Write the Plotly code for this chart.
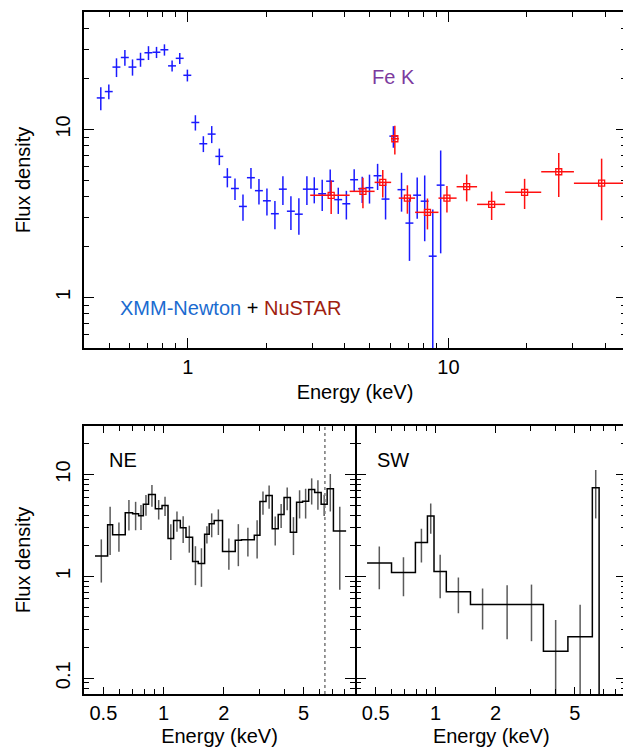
import math
import plotly.graph_objects as go

# ---------------- data ----------------
# Top panel: XMM-Newton (blue) points
XMM_E = [0.464, 0.498, 0.533, 0.574, 0.614, 0.659, 0.707, 0.759, 0.814, 0.871, 0.932, 0.997,
         1.07, 1.148, 1.236, 1.322, 1.419, 1.518, 1.629, 1.748, 1.876, 2.013, 2.16, 2.318,
         2.488, 2.669, 2.865, 3.058, 3.28, 3.52, 3.78, 4.06, 4.35, 4.67, 4.98, 5.35,
         5.74, 6.15, 6.61, 7.09, 7.59, 8.11, 8.71, 9.34]
XMM_F = [15.4, 16.8, 23.5, 26.8, 23.5, 26.1, 28.6, 28.8, 29.8, 23.9, 26.5, 21.0,
         11.0, 8.22, 9.38, 6.91, 5.20, 4.45, 3.48, 5.16, 4.32, 3.76, 3.15, 4.41,
         3.26, 3.13, 4.41, 4.41, 4.14, 4.92, 3.82, 3.61, 5.02, 4.44, 4.50, 5.30,
         3.85, 9.12, 4.38, 2.77, 4.06, 3.74, 1.76, 4.66]
XMM_ERR = [2.4, 1.7, 3.0, 2.9, 2.6, 2.5, 2.7, 2.2, 2.3, 1.8, 2.0, 1.7,
           1.15, 0.89, 1.09, 0.78, 0.68, 0.65, 0.62, 0.73, 0.75, 0.69, 0.6, 0.86,
           0.74, 0.77, 0.86, 0.78, 0.87, 0.85, 0.68, 0.70, 0.78, 0.79, 0.88, 0.94,
           0.94, 1.34, 1.14, 1.12, 1.12, 1.58, 1.58, 2.83]
XMM_XERR_PCT = 3.5

# Top panel: NuSTAR (red) points
NU_E = [3.55, 4.70, 5.60, 6.23, 6.96, 8.31, 9.87, 11.75, 14.65, 19.6, 26.5, 38.7]
NU_LO = [2.95, 4.18, 5.21, 6.03, 6.45, 7.45, 9.16, 10.75, 12.88, 16.5, 22.7, 30.3]
NU_HI = [4.18, 5.21, 6.03, 6.45, 7.45, 9.16, 10.75, 12.88, 16.5, 22.7, 30.3, 47.3]
NU_F = [4.05, 4.28, 4.84, 8.80, 3.90, 3.21, 3.90, 4.56, 3.58, 4.22, 5.60, 4.79]
NU_ERR = [0.91, 0.88, 0.90, 1.70, 0.75, 0.67, 0.70, 0.83, 0.69, 0.86, 1.64, 1.91]

# Bottom-left: NE region, binned spectrum
NE_EDGES = [0.454, 0.525, 0.556, 0.643, 0.700, 0.750, 0.792, 0.841, 0.909, 0.982, 1.052,
            1.122, 1.212, 1.294, 1.396, 1.49, 1.603, 1.69, 1.79, 1.97, 2.28, 2.45, 2.84,
            3.03, 3.25, 3.49, 3.74, 4.0, 4.30, 4.62, 4.95, 5.31, 5.69, 6.13, 6.57, 7.06, 8.17]
NE_F = [1.59, 3.22, 2.57, 4.22, 4.12, 3.94, 5.12, 6.37, 4.62, 4.98, 2.35, 3.55, 3.01, 2.43,
        1.40, 1.34, 2.6, 3.29, 3.55, 1.76, 2.26, 2.29, 2.53, 5.44, 6.23, 2.94, 4.06, 5.96,
        2.72, 5.36, 5.48, 7.13, 6.67, 5.12, 7.24, 2.79]
NE_ERR = [0.72, 1.6, 0.82, 1.4, 1.28, 1.08, 1.17, 1.54, 1.0, 1.07, 0.9, 0.8, 0.88, 0.72,
          0.58, 0.55, 0.5, 0.87, 1.0, 0.6, 1.0, 0.72, 1.03, 1.4, 1.6, 0.93, 1.07, 1.5,
          1.1, 1.65, 1.78, 2.05, 2.15, 1.2, 2.9, 2.05]

# Bottom-right: SW region, binned spectrum (last bin drops below the plot floor)
SW_EDGES = [0.452, 0.600, 0.791, 0.909, 0.981, 1.131, 1.496, 1.98, 2.64, 3.48, 4.62, 6.13, 6.63, 7.1]
SW_F = [1.356, 1.09, 2.15, 3.91, 1.12, 0.705, 0.531, 0.531, 0.531, 0.184, 0.256, 7.41, 0.02]
SW_ERR = [0.61, 0.45, 0.78, 1.28, 0.51, 0.27, 0.23, 0.29, 0.30, 0.19, 0.27, 3.7, 0.0]

FE_K_ENERGY = 6.4

TOP_X_TICKS = [1, 10]
TOP_Y_TICKS = [1, 10]
BOT_X_TICKS = [0.5, 1, 2, 5]
BOT_X_TEXT = ["0.5", "1", "2", "5"]
BOT_Y_TICKS = [0.1, 1, 10]
BOT_Y_TEXT = ["0.1", "1", "10"]

TOP_X_RANGE = (0.4, 48.0)
TOP_Y_RANGE = (0.5, 50.0)
BOT_X_RANGE = (0.4, 9.05)
BOT_Y_RANGE = (0.07, 30.0)

# ---------------- figure ----------------
PAGE_W, PAGE_H = 631, 749
OFF = 8  # default body margin of the page
W, H = PAGE_W - OFF, PAGE_H - OFF
FONT = "Liberation Sans, Arial, Helvetica, sans-serif"


def fx(p):
    return (p - OFF) / W


def fy(p):
    return 1 - (p - OFF) / H


def minor_vals(lo, hi):
    out = []
    dec = 10 ** math.floor(math.log10(lo))
    while dec <= hi:
        for m in range(2, 10):
            v = m * dec
            if lo <= v <= hi:
                out.append(round(v, 6))
        dec *= 10
    return out


fig = go.Figure()

BLUE = "#1a1aff"
RED = "#ff1010"

fig.add_trace(go.Scatter(
    x=XMM_E, y=XMM_F, mode="markers", xaxis="x", yaxis="y",
    marker=dict(size=1, color=BLUE),
    error_y=dict(type="data", array=XMM_ERR, color=BLUE, thickness=1.5, width=0),
    error_x=dict(type="percent", value=XMM_XERR_PCT, color=BLUE, thickness=1.5, width=0),
    hoverinfo="skip", showlegend=False))

nu_plus = [h - e for h, e in zip(NU_HI, NU_E)]
nu_minus = [e - l for e, l in zip(NU_E, NU_LO)]
fig.add_trace(go.Scatter(
    x=NU_E, y=NU_F, mode="markers", xaxis="x", yaxis="y",
    marker=dict(symbol="square-open", size=6, color=RED, line=dict(width=1.3, color=RED)),
    error_y=dict(type="data", array=NU_ERR, color=RED, thickness=1.5, width=0),
    error_x=dict(type="data", array=nu_plus, arrayminus=nu_minus, color=RED, thickness=1.5, width=0),
    hoverinfo="skip", showlegend=False))


def add_binned(edges, vals, errs, xa, ya):
    # error bars at bin centres (grey)
    cx, cy, ce = [], [], []
    for i, v in enumerate(vals):
        if errs[i] > 0:
            cx.append(math.sqrt(edges[i] * edges[i + 1]))
            cy.append(v)
            ce.append(errs[i])
    fig.add_trace(go.Scatter(
        x=cx, y=cy, mode="markers", xaxis=xa, yaxis=ya,
        marker=dict(size=1, color="rgba(0,0,0,0)"),
        error_y=dict(type="data", array=ce, color="#5a5a5a", thickness=1.5, width=0),
        hoverinfo="skip", showlegend=False))
    fig.add_trace(go.Scatter(
        x=list(edges), y=list(vals) + [vals[-1]], mode="lines", line_shape="hv",
        xaxis=xa, yaxis=ya, line=dict(color="black", width=1.5),
        hoverinfo="skip", showlegend=False))


add_binned(NE_EDGES, NE_F, NE_ERR, "x2", "y2")
add_binned(SW_EDGES, SW_F, SW_ERR, "x3", "y3")

# Fe K dotted marker line in NE panel
fig.add_trace(go.Scatter(
    x=[FE_K_ENERGY, FE_K_ENERGY], y=[BOT_Y_RANGE[0], BOT_Y_RANGE[1]], mode="lines",
    xaxis="x2", yaxis="y2", line=dict(color="#777777", width=1.5, dash="dot"),
    hoverinfo="skip", showlegend=False))


def log_axis(rng, tickvals, ticktext, domain, anchor, minor_range, **kw):
    d = dict(
        type="log", range=[math.log10(rng[0]), math.log10(rng[1])], domain=domain, anchor=anchor,
        showline=True, linecolor="black", linewidth=1.5, mirror="allticks",
        ticks="inside", ticklen=10, tickwidth=1.3, tickcolor="black",
        tickmode="array", tickvals=tickvals, ticktext=ticktext,
        showgrid=False, zeroline=False, tickfont=dict(size=20, color="black", family=FONT),
        minor=dict(ticks="inside", ticklen=5, tickwidth=1.2, tickcolor="black", showgrid=False,
                   tickmode="array", tickvals=minor_vals(*minor_range)),
    )
    d.update(kw)
    return d


TOP_XD = [fx(84), fx(626)]
TOP_YD = [fy(348), fy(12)]
BL_XD = [fx(84), fx(355)]
BR_XD = [fx(356.5), fx(626)]
BOT_YD = [fy(694), fy(426)]

title_font = dict(size=20, color="black", family=FONT)

fig.update_layout(
    width=W, height=H, margin=dict(l=0, r=0, t=0, b=0),
    paper_bgcolor="white", plot_bgcolor="white", showlegend=False,
    font=dict(family=FONT, size=20, color="black"),
    xaxis=log_axis(TOP_X_RANGE, TOP_X_TICKS, [str(v) for v in TOP_X_TICKS], TOP_XD, "y",
                   TOP_X_RANGE,
                   title=dict(text="Energy (keV)", font=title_font, standoff=8)),
    yaxis=log_axis(TOP_Y_RANGE, TOP_Y_TICKS, [str(v) for v in TOP_Y_TICKS], TOP_YD, "x",
                   TOP_Y_RANGE, tickangle=-90, ticklabelstandoff=4,
                   title=dict(text="Flux density", font=title_font, standoff=16)),
    xaxis2=log_axis(BOT_X_RANGE, BOT_X_TICKS, BOT_X_TEXT, BL_XD, "y2", BOT_X_RANGE,
                    ticklen=7,
                    title=dict(text="Energy (keV)", font=title_font, standoff=6)),
    yaxis2=log_axis(BOT_Y_RANGE, BOT_Y_TICKS, BOT_Y_TEXT, BOT_YD, "x2", BOT_Y_RANGE,
                    tickangle=-90, ticklabelstandoff=4,
                    title=dict(text="Flux density", font=title_font, standoff=16)),
    xaxis3=log_axis(BOT_X_RANGE, BOT_X_TICKS, BOT_X_TEXT, BR_XD, "y3", BOT_X_RANGE,
                    ticklen=7,
                    title=dict(text="Energy (keV)", font=title_font, standoff=6)),
    yaxis3=log_axis(BOT_Y_RANGE, BOT_Y_TICKS, BOT_Y_TEXT, BOT_YD, "x3", BOT_Y_RANGE,
                    showticklabels=False),
)

fig.add_annotation(x=fx(393), y=fy(77), xref="paper", yref="paper", text="Fe K",
                   showarrow=False, font=dict(size=20, color="#7d3a9e", family=FONT),
                   xanchor="center", yanchor="middle")
fig.add_annotation(x=fx(118), y=fy(308), xref="paper", yref="paper",
                   text="<span style='color:#1b6bd0'>XMM-Newton</span> + "
                        "<span style='color:#a01e10'>NuSTAR</span>",
                   showarrow=False, font=dict(size=20, color="black", family=FONT),
                   xanchor="left", yanchor="middle")
fig.add_annotation(x=fx(107), y=fy(460), xref="paper", yref="paper", text="NE",
                   showarrow=False, font=dict(size=20, color="black", family=FONT),
                   xanchor="left", yanchor="middle")
fig.add_annotation(x=fx(375), y=fy(460), xref="paper", yref="paper", text="SW",
                   showarrow=False, font=dict(size=20, color="black", family=FONT),
                   xanchor="left", yanchor="middle")

fig.write_html("out.html")
